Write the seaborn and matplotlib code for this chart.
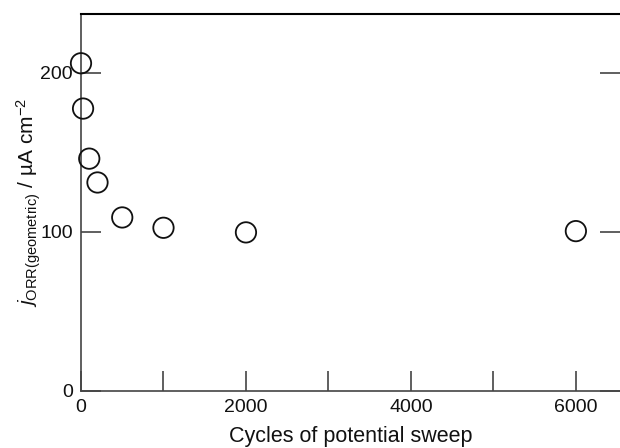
import matplotlib
matplotlib.use("Agg")
import matplotlib.pyplot as plt
import seaborn as sns
import pandas as pd

# Cycle count and geometric ORR current density
cycles = [0, 25, 100, 200, 500, 1000, 2000, 6000]
j_orr = [206, 177.5, 146, 131, 109, 102.5, 99.6, 100.4]
x_ticks = [0, 1000, 2000, 3000, 4000, 5000, 6000]
x_tick_labels = ["0", "", "2000", "", "4000", "", "6000"]
y_ticks = [0, 100, 200]
y_tick_labels = ["0", "100", "200"]

sns.set_style("ticks")
plt.rcParams["font.family"] = ["Liberation Sans", "DejaVu Sans"]
plt.rcParams["mathtext.fontset"] = "custom"
plt.rcParams["mathtext.rm"] = "Liberation Sans"
plt.rcParams["mathtext.it"] = "Liberation Sans:italic"

df = pd.DataFrame({"cycles": cycles, "j": j_orr})

fig = plt.figure(figsize=(6.2, 4.48), dpi=100)
ax = fig.add_axes([81 / 620, 1 - 390.7 / 448, 1 - 81 / 620, (390.7 - 14) / 448])

sns.scatterplot(data=df, x="cycles", y="j", ax=ax, marker="o", s=215,
                facecolor="none", edgecolor="#111111", linewidth=1.3, zorder=5,
                clip_on=False)

ax.set_xlim(0, 6535)
ax.set_ylim(0, 237)
ax.set_xticks(x_ticks)
ax.set_xticklabels(x_tick_labels)
ax.set_yticks(y_ticks)
ax.set_yticklabels(y_tick_labels)

ax.spines["right"].set_visible(False)
ax.spines["top"].set_color("black")
ax.spines["top"].set_linewidth(1.5)
for side in ("left", "bottom"):
    ax.spines[side].set_color("#444444")
    ax.spines[side].set_linewidth(1.2)

ax.tick_params(axis="both", direction="in", length=14.5, width=1.2,
               color="#444444", labelsize=14, labelcolor="#111111")
ax.tick_params(axis="y", right=True, pad=6)
ax.tick_params(axis="x", pad=6)

ax.set_xlabel("Cycles of potential sweep", fontsize=15.5, color="#111111", labelpad=7)
ax.set_ylabel(r"$\mathit{j}_{\mathrm{ORR(geometric)}}$ / µA cm$^{-2}$",
              fontsize=15, color="#111111", labelpad=-2)

fig.savefig("out.png", dpi=100)
